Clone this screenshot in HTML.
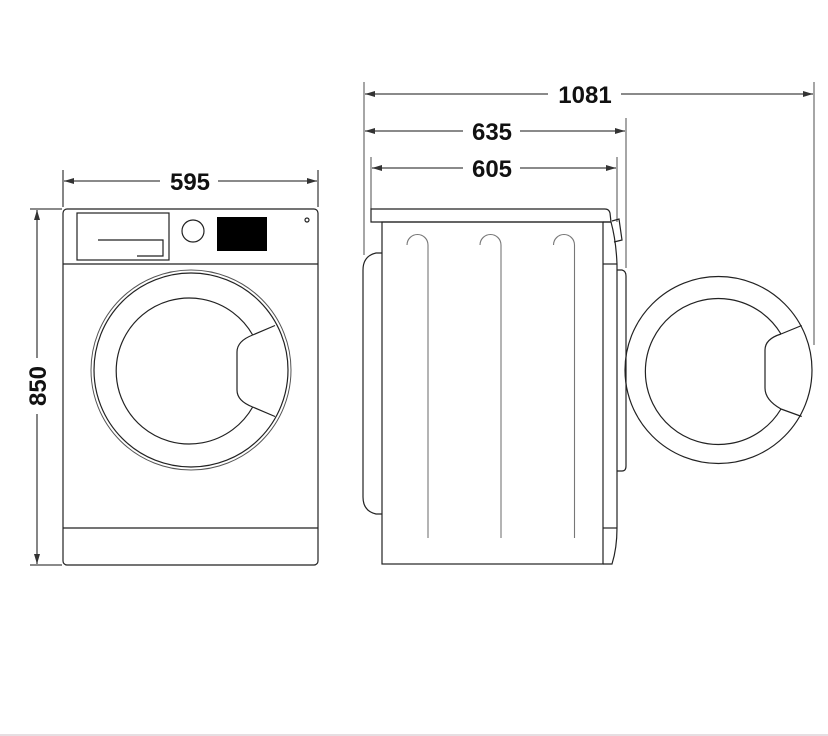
<!DOCTYPE html>
<html><head><meta charset="utf-8"><style>
html,body{margin:0;padding:0;background:#fff;width:828px;height:736px;overflow:hidden}
text{font-family:"Liberation Sans",sans-serif;font-weight:bold;font-size:24px;fill:#111}
</style></head><body>
<svg width="828" height="736" viewBox="0 0 828 736" xmlns="http://www.w3.org/2000/svg">
<defs>
<marker id="a" viewBox="0 0 10 6" refX="10" refY="3" markerWidth="14" markerHeight="6" markerUnits="userSpaceOnUse" orient="auto-start-reverse"><path d="M0,0 L10,3 L0,6 z" fill="#333"/></marker>
</defs>
<g stroke="#444" stroke-width="1.3" fill="none">
<line x1="63" y1="170" x2="63" y2="207"/><line x1="318" y1="170" x2="318" y2="207"/>
<line x1="64" y1="181" x2="160" y2="181" marker-start="url(#a)"/>
<line x1="218" y1="181" x2="317" y2="181" marker-end="url(#a)"/>
<line x1="30" y1="209" x2="62" y2="209"/><line x1="30" y1="565" x2="62" y2="565"/>
<line x1="37" y1="210" x2="37" y2="358" marker-start="url(#a)"/>
<line x1="37" y1="414" x2="37" y2="564" marker-end="url(#a)"/>
<line x1="364" y1="82" x2="364" y2="255" stroke="#777"/>
<line x1="814" y1="82" x2="814" y2="345" stroke="#777"/>
<line x1="365" y1="94" x2="548" y2="94" marker-start="url(#a)"/>
<line x1="621" y1="94" x2="813" y2="94" marker-end="url(#a)"/>
<line x1="626" y1="118" x2="626" y2="268" stroke="#777"/>
<line x1="365" y1="131" x2="463" y2="131" marker-start="url(#a)"/>
<line x1="520" y1="131" x2="625" y2="131" marker-end="url(#a)"/>
<line x1="371" y1="157" x2="371" y2="209" stroke="#777"/>
<line x1="617" y1="157" x2="617" y2="222" stroke="#777"/>
<line x1="372" y1="168" x2="463" y2="168" marker-start="url(#a)"/>
<line x1="520" y1="168" x2="616" y2="168" marker-end="url(#a)"/>
</g>
<text x="190" y="190" text-anchor="middle">595</text>
<text x="585" y="103" text-anchor="middle">1081</text>
<text x="492" y="140" text-anchor="middle">635</text>
<text x="492" y="177" text-anchor="middle">605</text>
<text transform="translate(46,386) rotate(-90)" text-anchor="middle">850</text>

<rect x="217" y="217" width="50" height="34" fill="#000"/>
<g stroke="#222" stroke-width="1.2" fill="none">
<rect x="63" y="209" width="255" height="356" rx="4"/>
<line x1="63" y1="264" x2="318" y2="264"/>
<line x1="63" y1="528" x2="318" y2="528"/>
<rect x="77" y="213" width="92" height="47"/>
<path d="M98 240 H163 V256 H137"/>
<circle cx="193" cy="231" r="11"/>
<circle cx="307" cy="220" r="2"/>
<circle cx="191" cy="370" r="100" stroke="#555" stroke-width="1"/>
<circle cx="191" cy="370" r="97"/>
<path d="M252.7 335 A73 73 0 1 0 252.7 407"/>
<path d="M252.7 335 L275 325.5"/>
<path d="M252.7 407 L275 416.5"/>
<path d="M252.7 335 Q237 341 237 352 V390 Q237 401 252.7 407"/>
<path d="M371 209 H605 Q609 209 610 213 L611 222 H371 Z"/>
<rect x="382" y="222" width="221" height="342"/>
<path d="M603 222 H611 Q616 240 617 264 V528 Q617 548 612 564 H603"/>
<line x1="603" y1="264" x2="617" y2="264"/>
<line x1="603" y1="528" x2="617" y2="528"/>
<path d="M612 221 L619 219 L622 240 L614 242"/>
<path d="M617 270 H622 Q626 271 626 276 V466 Q626 471 622 471 H617"/>
<path d="M382 253 H376 Q363 256 363 270 V497 Q363 511 376 514 H382"/>
<circle cx="718.5" cy="370" r="93.5"/>
<path d="M781 334 A73 73 0 1 0 781 409"/>
<path d="M781 334 L801.7 325.5"/>
<path d="M781 409 L801.7 416.5"/>
<path d="M781 334 Q765 339 765 350 V388 Q765 400 781 409"/>
</g>
<g stroke="#777" stroke-width="1.1" fill="none">
<path d="M407 245 A10.5 10.5 0 0 1 428 245 V538"/>
<path d="M480 245 A10.5 10.5 0 0 1 501 245 V538"/>
<path d="M553.5 245 A10.5 10.5 0 0 1 574.5 245 V538"/>
</g>
<line x1="0" y1="735" x2="828" y2="735" stroke="#ddd4d8" stroke-width="1.5"/>
</svg>
</body></html>
